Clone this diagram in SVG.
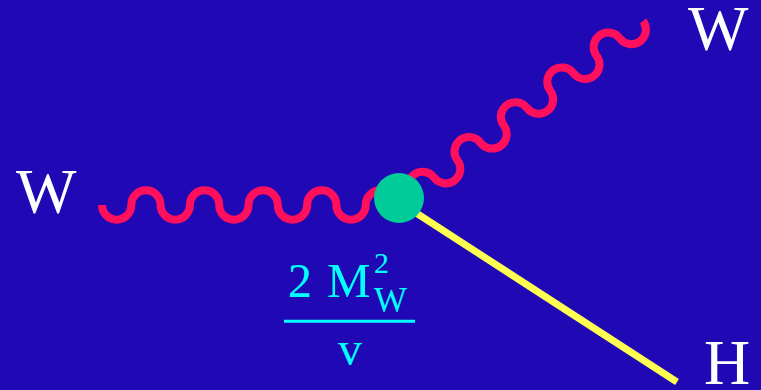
<svg xmlns="http://www.w3.org/2000/svg" width="761" height="390" viewBox="0 0 761 390">
  <style>
    .bg { fill: #2008b4; }
    .wboson { fill: none; stroke: #ff0f5c; stroke-width: 8; stroke-linecap: butt; }
    .higgs { fill: none; stroke: #ffff50; stroke-width: 7; stroke-linecap: butt; }
    .vertex { fill: #00cc99; }
    .label { font-family: "Liberation Serif", "Times New Roman", serif; fill: #ffffff; font-size: 64px; }
    .coup { font-family: "Liberation Serif", "Times New Roman", serif; fill: #00ffff; }
  </style>
  <rect class="bg" x="0" y="0" width="761" height="390"/>
  <g id="connectors">
    <path id="w-left" class="wboson" d="M102,205 a14.65,14.65 0 0 0 29.3,0 a14.65,14.65 0 0 1 29.3,0 a14.65,14.65 0 0 0 29.3,0 a14.65,14.65 0 0 1 29.3,0 a14.65,14.65 0 0 0 29.3,0 a14.65,14.65 0 0 1 29.3,0 a14.65,14.65 0 0 0 29.3,0 a14.65,14.65 0 0 1 29.3,0 a14.65,14.65 0 0 0 29.3,0 a14.65,14.65 0 0 1 29.3,0"/>
    <path id="w-right" class="wboson" transform="translate(411,195) rotate(-36.87)" d="M0,0 a14.5,14.5 0 0 1 29,0 a14.5,14.5 0 0 0 29,0 a14.5,14.5 0 0 1 29,0 a14.5,14.5 0 0 0 29,0 a14.5,14.5 0 0 1 29,0 a14.5,14.5 0 0 0 29,0 a14.5,14.5 0 0 1 29,0 a14.5,14.5 0 0 0 29,0 a14.5,14.5 0 0 1 29,0 a14.5,14.5 0 0 0 29,0"/>
    <path id="h-line" class="higgs" d="M400,202.5 L677,382"/>
  </g>
  <g id="vertex">
    <circle class="vertex" cx="399" cy="198" r="25"/>
  </g>
  <g id="label-w-left">
    <text class="label" x="16" y="212.5">W</text>
  </g>
  <g id="label-w-right">
    <text class="label" x="688" y="49.5">W</text>
  </g>
  <g id="label-h">
    <text class="label" x="704" y="384">H</text>
  </g>
  <g id="coupling">
    <text class="coup" x="288" y="297" font-size="48">2</text>
    <text class="coup" x="327" y="297" font-size="49">M</text>
    <text class="coup" x="374" y="273" font-size="30">2</text>
    <text class="coup" x="374" y="312" font-size="35">W</text>
    <line x1="284" y1="321.3" x2="415" y2="321.3" stroke="#00ffff" stroke-width="3"/>
    <text class="coup" x="350" y="365" font-size="48" text-anchor="middle">v</text>
  </g>
</svg>
